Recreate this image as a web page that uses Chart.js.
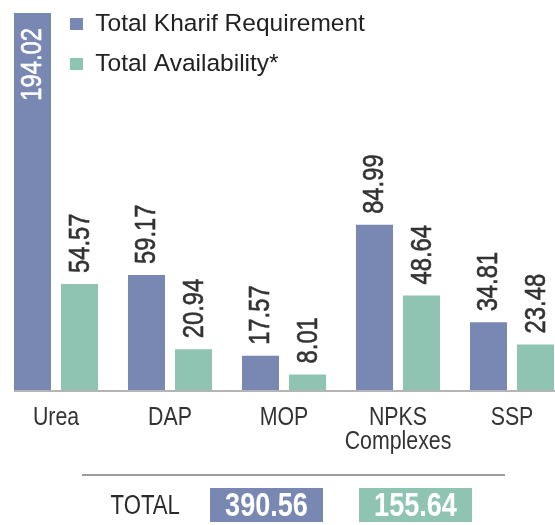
<!DOCTYPE html>
<html>
<head>
<meta charset="utf-8">
<script src="https://cdn.jsdelivr.net/npm/chart.js@4.4.1/dist/chart.umd.min.js"></script>
<style>
html,body{margin:0;padding:0;background:#fff;overflow:hidden;width:555px;height:525px;position:relative}
#wrap{position:absolute;left:-1px;top:0;width:570px;height:525px}
#sep{position:absolute;left:82px;top:474px;width:423px;height:2px;background:#9c9c9c}
#totLabel{position:absolute;left:100px;top:488px;width:90px;height:34px;line-height:34px;font-family:"Liberation Sans",sans-serif;font-size:27px;color:#2a2a2a;text-align:center}
.tbox{position:absolute;top:488px;width:113px;height:34px;line-height:34px;text-align:center;color:#fff;font-family:"Liberation Sans",sans-serif;font-weight:bold;font-size:33px}
.nar{display:inline-block;transform:scaleX(0.82);transform-origin:50% 50%;white-space:nowrap}
</style>
</head>
<body>
<div id="wrap"><canvas id="c" width="570" height="525"></canvas></div>
<div id="sep"></div>
<div id="totLabel"><span class="nar" id="totText"></span></div>
<div class="tbox" id="boxReq" style="left:210px"><span class="nar" id="reqText"></span></div>
<div class="tbox" id="boxAvail" style="left:359px"><span class="nar" id="avText"></span></div>
<script>
const categories = ['Urea', 'DAP', 'MOP', ['NPKS', 'Complexes'], 'SSP'];
const seriesNames = ['Total Kharif Requirement', 'Total Availability*'];
const requirement = [194.02, 59.17, 17.57, 84.99, 34.81];
const availability = [54.57, 20.94, 8.01, 48.64, 23.48];
const totalLabel = 'TOTAL';

const BLUE = '#7888b3';
const GREEN = '#8fc4b3';
// "Narrow" is a marker: text drawn with it is compressed horizontally below
const NARROW = '"Liberation Sans Narrow", "Liberation Sans", sans-serif';
const SX = 0.82;

const sum = a => a.reduce((s, v) => s + v, 0);
document.getElementById('totText').textContent = totalLabel;
document.getElementById('reqText').textContent = sum(requirement).toFixed(2);
document.getElementById('boxReq').style.background = BLUE;
document.getElementById('avText').textContent = sum(availability).toFixed(2);
document.getElementById('boxAvail').style.background = GREEN;

const canvas = document.getElementById('c');
const c2d = canvas.getContext('2d');
const origFill = c2d.fillText.bind(c2d);
c2d.fillText = function (t, x, y, mw) {
  if (String(this.font).indexOf('Narrow') >= 0) {
    this.save();
    this.translate(x, y);
    this.scale(SX, 1);
    origFill(t, 0, 0);
    this.restore();
  } else if (mw !== undefined) {
    origFill(t, x, y, mw);
  } else {
    origFill(t, x, y);
  }
};

const legendShift = {
  id: 'legendShift',
  afterLayout(chart) {
    const lg = chart.legend;
    if (!lg) return;
    lg.left = 55.5;
    lg.top = -3.75;
  }
};

const baseLine = {
  id: 'baseLine',
  beforeDatasetsDraw(chart) {
    const ctx = chart.ctx;
    const first = chart.getDatasetMeta(0).data[0];
    const x0 = first.x - first.width / 2;
    const y = chart.chartArea.bottom + 1;
    ctx.save();
    ctx.strokeStyle = '#b4b4b4';
    ctx.lineWidth = 2;
    ctx.beginPath();
    ctx.moveTo(x0, y);
    ctx.lineTo(chart.chartArea.right, y);
    ctx.stroke();
    ctx.restore();
  }
};

const barLabels = {
  id: 'barLabels',
  afterDatasetsDraw(chart) {
    const ctx = chart.ctx;
    ctx.save();
    ctx.font = '29px "Liberation Sans", sans-serif';
    ctx.textBaseline = 'middle';
    ctx.textAlign = 'left';
    ctx.lineWidth = 0.6;
    chart.data.datasets.forEach((ds, i) => {
      const meta = chart.getDatasetMeta(i);
      meta.data.forEach((bar, j) => {
        const txt = ds.data[j].toFixed(2);
        const w = ctx.measureText(txt).width * SX;
        const inside = bar.y - 12 - w < chart.chartArea.top;
        const col = inside ? '#ffffff' : '#333333';
        ctx.save();
        if (inside) {
          ctx.translate(bar.x + 1, bar.y + 15 + w);
        } else {
          ctx.translate(bar.x + 1, bar.y - 11);
        }
        ctx.rotate(-Math.PI / 2);
        ctx.scale(SX, 1);
        ctx.fillStyle = col;
        ctx.strokeStyle = col;
        ctx.fillText(txt, 0, 0);
        ctx.strokeText(txt, 0, 0);
        ctx.restore();
      });
    });
    ctx.restore();
  }
};

new Chart(canvas, {
  type: 'bar',
  data: {
    labels: categories,
    datasets: [
      { label: seriesNames[0], data: requirement, backgroundColor: BLUE, borderWidth: 0,
        categoryPercentage: 0.825, barPercentage: 0.787 },
      { label: seriesNames[1], data: availability, backgroundColor: GREEN, borderWidth: 0,
        categoryPercentage: 0.825, barPercentage: 0.787 }
    ]
  },
  options: {
    responsive: false,
    animation: false,
    devicePixelRatio: 1,
    layout: { padding: { top: 1.4, left: 0, right: 0, bottom: 0 } },
    plugins: {
      legend: {
        position: 'chartArea',
        align: 'start',
        labels: {
          boxWidth: 13, boxHeight: 12, padding: 15.5,
          color: '#222222',
          font: { family: '"Liberation Sans", sans-serif', size: 24.5 }
        }
      },
      tooltip: { enabled: false }
    },
    scales: {
      x: {
        grid: { display: false, drawTicks: false },
        border: { display: false },
        ticks: {
          color: '#333333',
          padding: 16,
          maxRotation: 0,
          autoSkip: false,
          font: { family: NARROW, size: 26, lineHeight: 0.92 }
        },
        afterFit(scale) { scale.height = 135; }
      },
      y: {
        display: false,
        min: 0,
        max: 200
      }
    }
  },
  plugins: [legendShift, baseLine, barLabels]
});
</script>
</body>
</html>
